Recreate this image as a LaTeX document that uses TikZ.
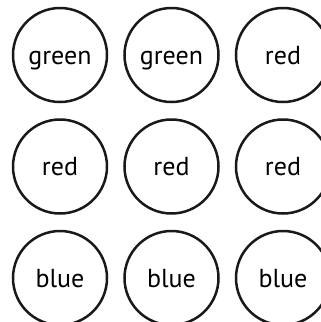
\documentclass[tikz,border=0pt]{standalone}
\usepackage{fontspec}
\setsansfont{PT Sans}
\usepackage{tikz}
\usetikzlibrary{positioning}

\begin{document}
\begin{tikzpicture}[
  font=\fontsize{26}{30}\selectfont\sffamily,
  C/.style={draw=black!90, line width=2.5pt, circle, minimum size=94pt,
    inner sep=0pt, text height=19pt, text depth=1pt, align=center},
  node distance=15pt and 15pt
]
  \useasboundingbox (0,0) rectangle (321pt,-322pt);
  \node[C] (g1) at (60pt,-55pt) {green};
  \node[C, right=of g1] (g2) {green};
  \node[C, right=of g2] (r1) {red};
  \node[C, below=of g1] (r2) {red};
  \node[C, right=of r2] (r3) {red};
  \node[C, right=of r3] (r4) {red};
  \node[C, below=of r2] (b1) {blue};
  \node[C, right=of b1] (b2) {blue};
  \node[C, right=of b2] (b3) {blue};
\end{tikzpicture}
\end{document}
